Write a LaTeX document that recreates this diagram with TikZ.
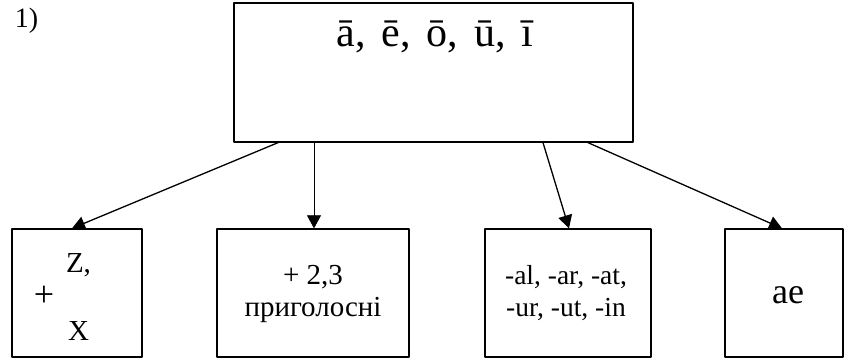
\documentclass[tikz,border=0pt]{standalone}
\usepackage{fontspec}
\setmainfont{Liberation Serif}
\usetikzlibrary{arrows.meta,positioning}

\begin{document}
\begin{tikzpicture}[x=1pt, y=-1pt, line join=round,
    box/.style={draw, line width=1.3pt, inner sep=0pt},
    link/.style={line width=1.3pt, -{Triangle[length=13pt,width=14pt]}},
    lbl/.style={font=\fontsize{27.5}{32}\selectfont, inner sep=0pt, align=center}]
    \useasboundingbox (0,0) rectangle (845,360);

    \node[font=\fontsize{28}{30}\selectfont, inner sep=0pt] (num) at (26.5,21) {1)};

    % long vowels on top
    \node[box, minimum width=399pt, minimum height=139pt] (vow) at (433.5,72.5) {};
    \node[font={\fontsize{42}{46}\selectfont\spaceskip 16pt\relax}, inner sep=0pt, anchor=base] (vowtxt) at (435,46) {ā, ē, ō, ū, ī};

    % the four cases below
    \node[box, minimum width=130pt, minimum height=128pt] (zx) at (77,293) {};
    \node[box, minimum width=192pt, minimum height=128pt] (cons) at (313,293) {};
    \node[box, minimum width=166pt, minimum height=128pt] (suff) at (568,293) {};
    \node[box, minimum width=118pt, minimum height=128pt] (ae) at (784,293) {};

    \node[lbl, font=\fontsize{29}{30}\selectfont, anchor=base] (ztxt) at (78.5,272) {Z,};
    \node[lbl, font=\fontsize{36}{36}\selectfont] (plus) at (44,296) {+};
    \node[lbl, font=\fontsize{29}{30}\selectfont, anchor=base] (xtxt) at (78.5,340) {X};

    \node[lbl, font=\fontsize{29}{32}\selectfont] (constxt) at (313,294.4) {+ 2,3\\приголосні};
    \node[lbl] (sufftxt) at (566,293.5) {-al, -ar, -at,\\-ur, -ut, -in};
    \node[lbl, font=\fontsize{36}{38}\selectfont, anchor=base] (aetxt) at (788,303) {ae};

    \draw[link] ([xshift=-155.5pt]vow.south) -- ([xshift=-5pt]zx.north);
    \draw[link, line width=0.7pt] ([xshift=-119.5pt]vow.south) -- ([xshift=1pt]cons.north);
    \draw[link] ([xshift=109.5pt]vow.south) -- ([xshift=1pt]suff.north);
    \draw[link] ([xshift=154.5pt]vow.south) -- ([xshift=-2pt]ae.north);
\end{tikzpicture}
\end{document}
